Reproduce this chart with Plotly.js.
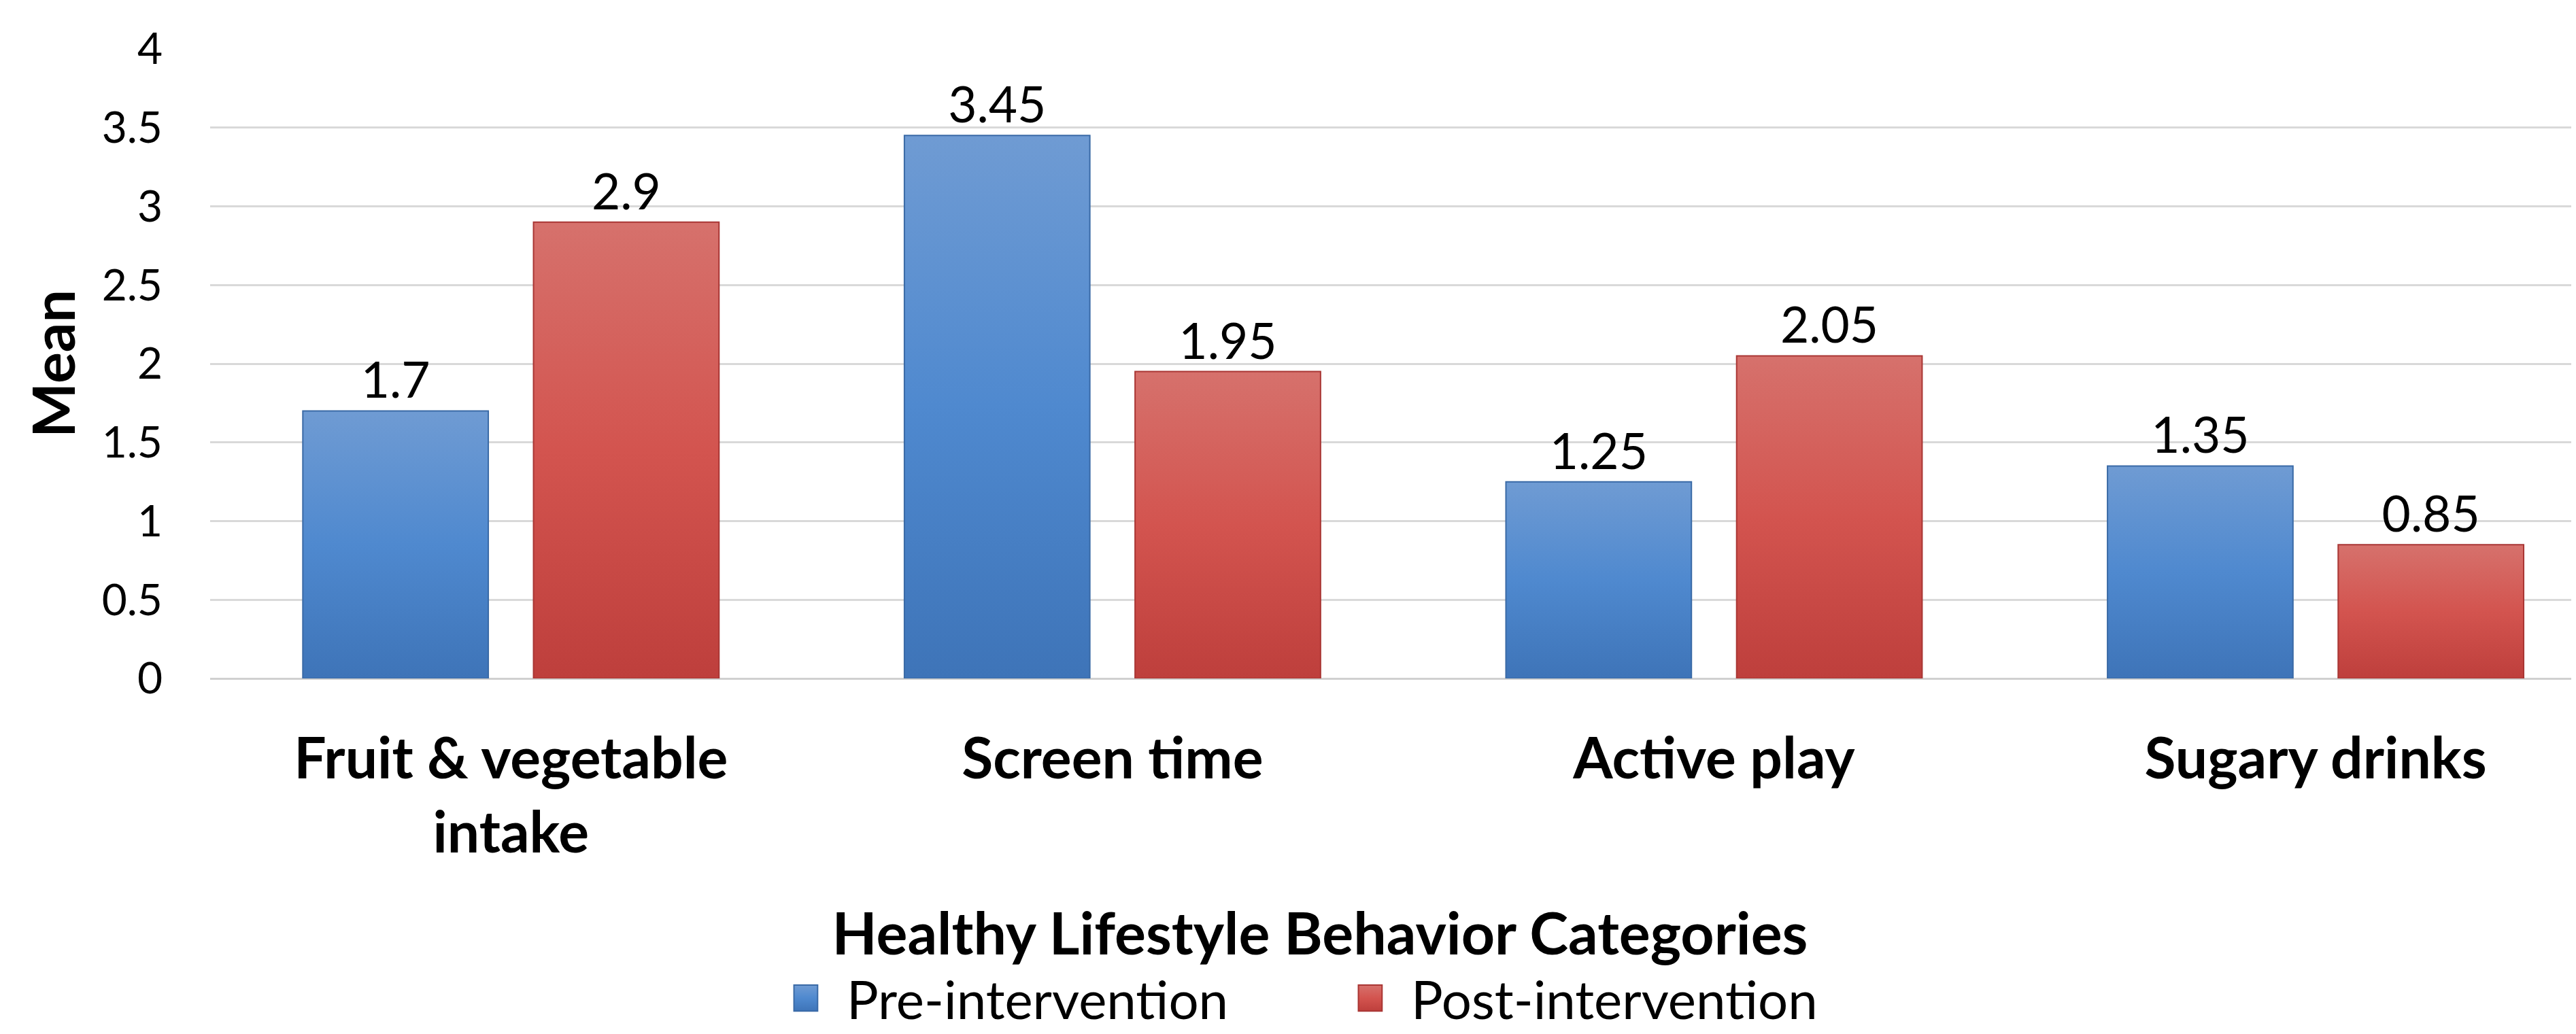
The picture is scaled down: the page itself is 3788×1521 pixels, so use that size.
<!DOCTYPE html>
<html>
<head>
<meta charset="utf-8">
<script src="https://cdn.plot.ly/plotly-3.0.1.min.js"></script>
<style>
  html, body { margin: 0; padding: 0; background: #ffffff; }
  #chart { width: 3788px; height: 1521px; }
</style>
</head>
<body>
<div id="chart"></div>
<script>
// ---- Data ----
const categories = ["Fruit & vegetable<br>intake", "Screen time", "Active play", "Sugary drinks"];
const preValues = [1.7, 3.45, 1.25, 1.35];
const postValues = [2.9, 1.95, 2.05, 0.85];
const seriesNames = ["Pre-intervention", "Post-intervention"];
const yTickVals = [0, 0.5, 1, 1.5, 2, 2.5, 3, 3.5, 4];
const yTickText = ["0", "0.5", "1", "1.5", "2", "2.5", "3", "3.5", "4"];
const xTitle = "Healthy Lifestyle Behavior Categories";
const yTitle = "Mean";

const FONT = "Lato, 'Open Sans', 'Noto Sans', sans-serif";
const BLUE = "#4f86c9";
const RED = "#cd4e4a";

const traces = [
  {
    type: "bar", name: seriesNames[0], x: categories, y: preValues,
    marker: { color: BLUE, line: { color: "#3a6aa6", width: 2 } },
    text: preValues.map(String), textposition: "outside", cliponaxis: false,
    textfont: { family: FONT, size: 73, color: "#000000" }, hoverinfo: "none"
  },
  {
    type: "bar", name: seriesNames[1], x: categories, y: postValues,
    marker: { color: RED, line: { color: "#a93634", width: 2 } },
    text: postValues.map(String), textposition: "outside", cliponaxis: false,
    textfont: { family: FONT, size: 73, color: "#000000" }, hoverinfo: "none"
  }
];

const layout = {
  width: 3788, height: 1521,
  paper_bgcolor: "#ffffff", plot_bgcolor: "#ffffff",
  margin: { l: 309, r: 7, t: 72, b: 523, autoexpand: false },
  barmode: "group", bargap: 0.233, bargroupgap: 0.196,
  font: { family: FONT, color: "#000000" },
  showlegend: true,
  legend: {
    orientation: "h", x: 0.235, xanchor: "left", y: -0.508, yanchor: "middle",
    font: { family: FONT, size: 78, color: "#000000" }, itemwidth: 110,
    entrywidth: 705, entrywidthmode: "pixels", traceorder: "normal",
    bgcolor: "rgba(0,0,0,0)", borderwidth: 0
  },
  xaxis: {
    type: "category", range: [-0.5, 3.425], automargin: false,
    showgrid: false, showline: false, zeroline: false,
    ticks: "", ticklabelstandoff: 62,
    tickfont: { family: FONT, size: 84, color: "#000000", weight: "bold" },
    title: { text: xTitle, font: { family: FONT, size: 86, color: "#000000", weight: "bold" }, standoff: 72 }
  },
  yaxis: {
    range: [0, 4], automargin: false, tickvals: yTickVals, ticktext: yTickText,
    showgrid: true, gridcolor: "#d9d9d9", gridwidth: 3,
    zeroline: true, zerolinecolor: "#d0d0d0", zerolinewidth: 3,
    showline: false, ticks: "", ticklabelstandoff: 69,
    tickfont: { family: FONT, size: 64, color: "#000000" },
    title: { text: yTitle, font: { family: FONT, size: 86, color: "#000000", weight: "bold" }, standoff: 10 }
  }
};

function styleAfter(gd) {
  const svg = gd.querySelector(".main-svg");
  const ns = "http://www.w3.org/2000/svg";
  let defs = svg.querySelector("defs");
  if (!defs) { defs = document.createElementNS(ns, "defs"); svg.insertBefore(defs, svg.firstChild); }
  const grads = [
    { id: "gBlue", stops: [["0%", "#6f9bd3"], ["50%", "#4f89cf"], ["100%", "#3e74b8"]] },
    { id: "gRed",  stops: [["0%", "#d6716c"], ["50%", "#d3544f"], ["100%", "#be3f3c"]] }
  ];
  grads.forEach(g => {
    const lg = document.createElementNS(ns, "linearGradient");
    lg.setAttribute("id", g.id);
    lg.setAttribute("x1", "0"); lg.setAttribute("y1", "0");
    lg.setAttribute("x2", "0"); lg.setAttribute("y2", "1");
    g.stops.forEach(s => {
      const st = document.createElementNS(ns, "stop");
      st.setAttribute("offset", s[0]); st.setAttribute("stop-color", s[1]);
      lg.appendChild(st);
    });
    defs.appendChild(lg);
  });
  const ids = ["gBlue", "gRed"];
  gd.querySelectorAll(".barlayer .trace").forEach((tr, i) => {
    tr.querySelectorAll(".point path").forEach(p => { p.style.fill = "url(#" + ids[i % 2] + ")"; });
  });
  gd.querySelectorAll(".legend .traces").forEach((tr, i) => {
    tr.querySelectorAll(".legendpoints path").forEach(p => {
      p.style.fill = "url(#" + ids[i % 2] + ")";
      const t = p.getAttribute("transform") || "";
      p.setAttribute("transform", t + " scale(2.9,3.2)");
      p.style.vectorEffect = "non-scaling-stroke";
    });
  });
  // let the legend text run to the picture edge without clipping
  gd.querySelectorAll(".legend [clip-path]").forEach(el => el.removeAttribute("clip-path"));
  const lg = gd.querySelector(".legend");
  if (lg) lg.removeAttribute("clip-path");
  gd.querySelectorAll(".legend .scrollbar").forEach(el => el.style.display = "none");
  // centre the x-axis title on the chart area as in the original
  const xt = gd.querySelector(".g-xtitle");
  if (xt) xt.setAttribute("transform", "translate(-104,0)");
}

Plotly.newPlot("chart", traces, layout, { staticPlot: true, displayModeBar: false })
  .then(gd => { try { styleAfter(gd); } catch (e) { console.error(e); } });
</script>
</body>
</html>
